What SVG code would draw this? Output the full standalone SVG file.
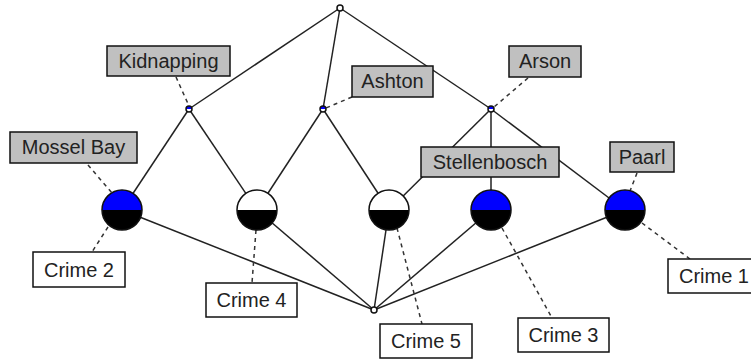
<svg xmlns="http://www.w3.org/2000/svg" width="751" height="360" viewBox="0 0 751 360">
<style>
.edge{stroke:#222;stroke-width:1.5;fill:none}
.dash{stroke:#333;stroke-width:1.5;stroke-dasharray:4,4;fill:none}
.lbl{fill:#c0c0c0;stroke:#111;stroke-width:1.5}
.obj{fill:#fff;stroke:#111;stroke-width:1.5}
.ring{fill:none;stroke:#111;stroke-width:1.5}
text{font-family:"Liberation Sans",Arial,sans-serif;font-size:20px;fill:#222;text-anchor:middle}
</style>
<rect width="751" height="360" fill="#fff"/>
<g id="connectors">
<line class="edge" x1="340" y1="8" x2="189" y2="109"/>
<line class="edge" x1="340" y1="8" x2="323" y2="109"/>
<line class="edge" x1="340" y1="8" x2="491" y2="109"/>
<line class="edge" x1="189" y1="109" x2="122" y2="210"/>
<line class="edge" x1="189" y1="109" x2="257" y2="210"/>
<line class="edge" x1="323" y1="109" x2="257" y2="210"/>
<line class="edge" x1="323" y1="109" x2="389" y2="210"/>
<line class="edge" x1="491" y1="109" x2="389" y2="210"/>
<line class="edge" x1="491" y1="109" x2="491" y2="210"/>
<line class="edge" x1="491" y1="109" x2="625" y2="210"/>
<line class="edge" x1="374" y1="310" x2="122" y2="210"/>
<line class="edge" x1="374" y1="310" x2="257" y2="210"/>
<line class="edge" x1="374" y1="310" x2="389" y2="210"/>
<line class="edge" x1="374" y1="310" x2="491" y2="210"/>
<line class="edge" x1="374" y1="310" x2="625" y2="210"/>
<line class="dash" x1="176" y1="77" x2="189" y2="106"/>
<line class="dash" x1="352" y1="97" x2="326" y2="108"/>
<line class="dash" x1="528" y1="78" x2="494" y2="107"/>
<line class="dash" x1="88" y1="165" x2="112" y2="193"/>
<line class="dash" x1="637" y1="173" x2="630" y2="191"/>
<line class="dash" x1="108" y1="227" x2="92" y2="252"/>
<line class="dash" x1="256" y1="230" x2="252" y2="283"/>
<line class="dash" x1="397" y1="228" x2="422" y2="324"/>
<line class="dash" x1="502" y1="228" x2="552" y2="318"/>
<line class="dash" x1="642" y1="223" x2="690" y2="259"/>
</g>
<g id="top"><circle cx="340" cy="8" r="3" class="obj"/></g>
<g id="bottom"><circle cx="374" cy="310" r="3" class="obj"/></g>
<g id="n-kidnapping"><circle cx="189" cy="109" r="3" fill="#fff"/><path d="M186 109A3 3 0 0 1 192 109Z" fill="#00f"/><circle cx="189" cy="109" r="3" class="ring"/></g>
<g id="n-ashton"><circle cx="323" cy="109" r="3" fill="#fff"/><path d="M320 109A3 3 0 0 1 326 109Z" fill="#00f"/><circle cx="323" cy="109" r="3" class="ring"/></g>
<g id="n-arson"><circle cx="491" cy="109" r="3" fill="#fff"/><path d="M488 109A3 3 0 0 1 494 109Z" fill="#00f"/><circle cx="491" cy="109" r="3" class="ring"/></g>
<g id="c1"><path d="M102 210A20 20 0 0 1 142 210Z" fill="#00f"/><path d="M102 210A20 20 0 0 0 142 210Z" fill="#000"/><circle cx="122" cy="210" r="20" class="ring"/></g>
<g id="c2"><path d="M237 210A20 20 0 0 1 277 210Z" fill="#fff"/><path d="M237 210A20 20 0 0 0 277 210Z" fill="#000"/><circle cx="257" cy="210" r="20" class="ring"/></g>
<g id="c3"><path d="M369 210A20 20 0 0 1 409 210Z" fill="#fff"/><path d="M369 210A20 20 0 0 0 409 210Z" fill="#000"/><circle cx="389" cy="210" r="20" class="ring"/></g>
<g id="c4"><path d="M471 210A20 20 0 0 1 511 210Z" fill="#00f"/><path d="M471 210A20 20 0 0 0 511 210Z" fill="#000"/><circle cx="491" cy="210" r="20" class="ring"/></g>
<g id="c5"><path d="M605 210A20 20 0 0 1 645 210Z" fill="#00f"/><path d="M605 210A20 20 0 0 0 645 210Z" fill="#000"/><circle cx="625" cy="210" r="20" class="ring"/></g>
<g id="l-kidnapping"><rect x="107" y="46" width="123" height="30" class="lbl"/><text x="168.5" y="68">Kidnapping</text></g>
<g id="l-ashton"><rect x="352" y="66" width="81" height="31" class="lbl"/><text x="392.5" y="88">Ashton</text></g>
<g id="l-arson"><rect x="509" y="46" width="72" height="31" class="lbl"/><text x="545" y="68">Arson</text></g>
<g id="l-mossel"><rect x="10" y="132" width="127" height="31" class="lbl"/><text x="73.5" y="154">Mossel Bay</text></g>
<g id="l-stellenbosch"><rect x="421" y="147" width="138" height="30" class="lbl"/><text x="490" y="169">Stellenbosch</text></g>
<g id="l-paarl"><rect x="610" y="142" width="64" height="30" class="lbl"/><text x="642" y="164">Paarl</text></g>
<g id="o-crime2"><rect x="33" y="252" width="92" height="35" class="obj"/><text x="79" y="277">Crime 2</text></g>
<g id="o-crime4"><rect x="206" y="283" width="91" height="34" class="obj"/><text x="251.5" y="307">Crime 4</text></g>
<g id="o-crime5"><rect x="380" y="324" width="92" height="34" class="obj"/><text x="426" y="348">Crime 5</text></g>
<g id="o-crime3"><rect x="518" y="318" width="91" height="34" class="obj"/><text x="563.5" y="342">Crime 3</text></g>
<g id="o-crime1"><rect x="668" y="259" width="92" height="34" class="obj"/><text x="714" y="283">Crime 1</text></g>
</svg>
